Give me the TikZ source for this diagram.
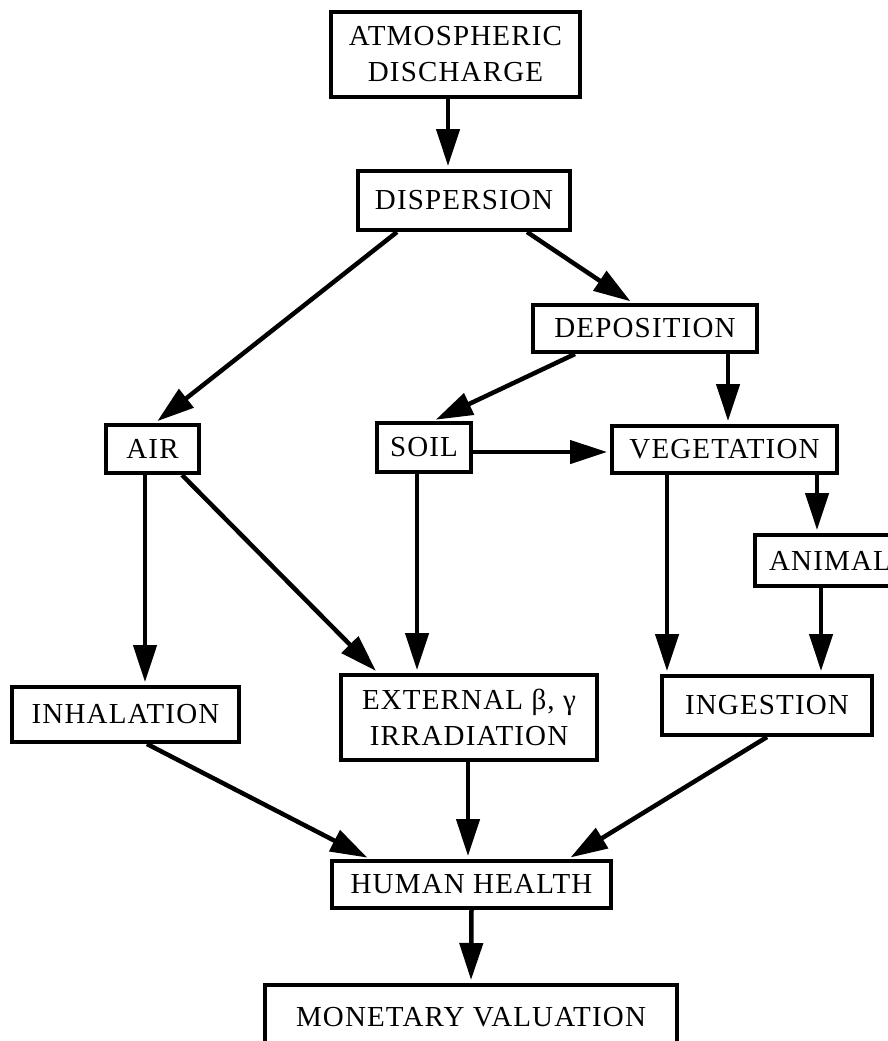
\documentclass[tikz,border=0pt]{standalone}
\usepackage{fontspec}
\setmainfont{Liberation Serif}[LetterSpace=4]
\usetikzlibrary{arrows.meta}

\begin{document}
\begin{tikzpicture}[x=1pt,y=-1pt,
    box/.style={draw,line width=4pt,inner sep=0pt,align=center,font=\fontsize{29}{36}\selectfont},
    arr/.style={line width=4.5pt,-{Triangle[length=37pt,width=23pt]},shorten >=3pt}]
        \useasboundingbox (0,0) rectangle (888,1041);
        \clip (0,0) rectangle (888,1041);
        \node[box,minimum width=249pt,minimum height=85pt] (atmo) at (455.5,54.5) {ATMOSPHERIC\\DISCHARGE};
        \node[box,minimum width=212pt,minimum height=59pt] (disp) at (464,200.5) {DISPERSION};
        \node[box,minimum width=224pt,minimum height=47pt] (depo) at (645,328.5) {DEPOSITION};
        \node[box,minimum width=93pt,minimum height=48pt] (air) at (152.5,449) {AIR};
        \node[box,minimum width=94pt,minimum height=49pt] (soil) at (424,447.5) {SOIL};
        \node[box,minimum width=225pt,minimum height=47pt] (veg) at (724.5,449.5) {VEGETATION};
        \node[box,minimum width=150pt,minimum height=51pt] (animal) at (830,560.5) {ANIMAL};
        \node[box,minimum width=227pt,minimum height=55pt] (inhal) at (125.5,714.5) {INHALATION};
        \node[box,minimum width=256pt,minimum height=85pt] (ext) at (469,717.5) {EXTERNAL β, γ\\IRRADIATION};
        \node[box,minimum width=210pt,minimum height=59pt] (inges) at (767,705.5) {INGESTION};
        \node[box,minimum width=279pt,minimum height=47pt] (human) at (471.5,884.5) {HUMAN HEALTH};
        \node[box,minimum width=412pt,minimum height=64pt] (monet) at (471,1017) {MONETARY VALUATION};

        \draw[arr] ([xshift=-7.5pt]atmo.south) -- ([xshift=-7.5pt]atmo.south |- disp.north);
        \draw[arr] ([xshift=-67pt]disp.south) -- ([xshift=2.5pt]air.north);
        \draw[arr] ([xshift=63pt]disp.south) -- ([xshift=-12pt]depo.north);
        \draw[arr] ([xshift=-70pt]depo.south) -- ([xshift=9pt]soil.north);
        \draw[arr] ([xshift=83pt]depo.south) -- ([xshift=83pt]depo.south |- veg.north);
        \draw[arr] ([yshift=-4.5pt]soil.east) -- ([yshift=-4.5pt]soil.east -| veg.west);
        \draw[arr] ([xshift=-7.5pt]air.south) -- ([xshift=-7.5pt]air.south |- inhal.north);
        \draw[arr] ([xshift=29.5pt]air.south) -- ([xshift=-91pt]ext.north);
        \draw[arr] ([xshift=-7pt]soil.south) -- ([xshift=-7pt]soil.south |- ext.north);
        \draw[arr] ([xshift=-57.5pt]veg.south) -- ([xshift=-57.5pt]veg.south |- inges.north);
        \draw[arr] ([xshift=92.5pt]veg.south) -- ([xshift=92.5pt]veg.south |- animal.north);
        \draw[arr] ([xshift=-9pt]animal.south) -- ([xshift=-9pt]animal.south |- inges.north);
        \draw[arr] ([xshift=21.5pt]inhal.south) -- ([xshift=-101.5pt]human.north);
        \draw[arr] ([xshift=-1pt]ext.south) -- ([xshift=-1pt]ext.south |- human.north);
        \draw[arr] (inges.south) -- ([xshift=96.5pt]human.north);
        \draw[arr] (human.south) -- (monet.north);
\end{tikzpicture}
\end{document}
